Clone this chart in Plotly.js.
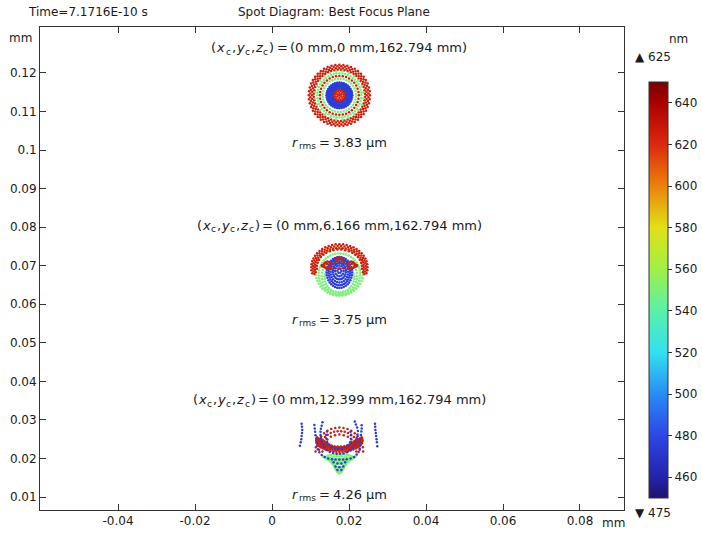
<!DOCTYPE html>
<html>
<head>
<meta charset="utf-8">
<script src="https://cdn.plot.ly/plotly-3.0.1.min.js"></script>
<style>html,body{margin:0;padding:0;background:#fff}#chart{width:702px;height:541px}</style>
</head>
<body>
<div id="chart"></div>
<script>
// ---------------- DATA ----------------
const WAVELENGTHS = [475, 550, 625];              // nm : blue, green, red rays
const SPOT_CX = [0.0175, 0.0175, 0.0175];         // mm, spot centres
const SPOT_CY = [0.1142, 0.0694, 0.0235];         // mm
const SPOT_YC = ['0 mm', '6.166 mm', '12.399 mm'];
const SPOT_ZC = ['162.794 mm', '162.794 mm', '162.794 mm'];
const RRMS = ['3.83', '3.75', '4.26'];            // µm
const X_TICKS = [-0.04, -0.02, 0, 0.02, 0.04, 0.06, 0.08];
const X_TICKTEXT = ['-0.04', '-0.02', '0', '0.02', '0.04', '0.06', '0.08'];
const Y_TICKS = [0.01, 0.02, 0.03, 0.04, 0.05, 0.06, 0.07, 0.08, 0.09, 0.1, 0.11, 0.12];
const Y_TICKTEXT = ['0.01', '0.02', '0.03', '0.04', '0.05', '0.06', '0.07', '0.08', '0.09', '0.1', '0.11', '0.12'];
const CB_TICKS = [460, 480, 500, 520, 540, 560, 580, 600, 620, 640];
const WL_MIN = 475, WL_MAX = 625;

// ray-fan angle sets (deg)
const A48 = [0,7.5,15,22.5,30,37.5,45,52.5,60,67.5,75,82.5,90,97.5,105,112.5,120,127.5,135,142.5,150,157.5,165,172.5,180,187.5,195,202.5,210,217.5,225,232.5,240,247.5,255,262.5,270,277.5,285,292.5,300,307.5,315,322.5,330,337.5,345,352.5];
const A36 = [0,10,20,30,40,50,60,70,80,90,100,110,120,130,140,150,160,170,180,190,200,210,220,230,240,250,260,270,280,290,300,310,320,330,340,350];
const A24 = [0,15,30,45,60,75,90,105,120,135,150,165,180,195,210,225,240,255,270,285,300,315,330,345];
const A12 = [0,30,60,90,120,150,180,210,240,270,300,330];
const A6  = [0,60,120,180,240,300];
const A1  = [0];

// spot rings, offsets in µm from spot centre: [dx, dy, rx, ry, angleSet, phase, fromDeg, toDeg]
const S1_GREEN = [
  [0,0,6.3,6.3,24,7.5,0,360],[0,0,5.7,5.7,48,0,0,360],[0,0,4.35,4.35,36,5,0,360]
];
const S1_BLUE = [
  [0,0,3.35,3.35,36,0,0,360],[0,0,3.0,3.0,36,5,0,360],[0,0,2.65,2.65,36,0,0,360],
  [0,0,2.3,2.3,24,7.5,0,360],[0,0,1.95,1.95,24,0,0,360]
];
const S1_RED = [
  [0,0,7.95,7.95,48,0,0,360],[0,0,7.55,7.55,48,3.75,0,360],[0,0,7.1,7.1,48,0,0,360],
  [0,0,6.65,6.65,48,3.75,0,360],[0,0,5.05,5.05,36,0,0,360],
  [0,0,1.6,1.6,24,0,0,360],[0,0,1.15,1.15,12,15,0,360],[0,0,0.6,0.6,6,30,0,360],[0,0,0,0,1,0,0,360]
];
const S2_GREEN = [
  [0,-1.0,6.2,6.2,48,0,0,360],[0,-1.6,5.4,5.4,48,3.75,0,360],
  [0,-2.1,4.6,4.6,36,0,0,360],[0,-2.5,3.8,3.8,36,5,0,360]
];
const S2_BLUE = [
  [0,-1.15,3.3,4.0,36,0,0,360],[0,-1.05,2.8,3.4,36,5,0,360],[0,-0.95,2.3,2.8,24,0,0,360],
  [0,-0.85,1.7,2.1,24,7.5,0,360],[0,-0.75,1.1,1.4,12,0,0,360],[0,-0.7,0.5,0.6,6,0,0,360]
];
const S2_RED = [
  [0,0.2,7.3,6.0,48,0,-20,200],[0,0.2,6.85,5.5,48,3.75,-20,200],
  [0,0.2,6.35,5.0,48,0,-15,195],[0,0.2,5.85,4.6,36,5,-10,190],
  [-3.1,0.8,0.9,0.9,12,0,0,360],[3.1,0.8,0.9,0.9,12,0,0,360],
  [0,0.6,4.6,0.7,24,0,0,360],[0,2.0,0.8,0.8,12,0,0,180]
];
const S3_GREEN = [
  [0,-2.9,4.2,0.9,36,0,180,360],[0,-3.3,3.5,0.9,36,5,0,360],[0,-3.9,2.6,1.0,24,0,0,360],
  [0,-4.7,1.8,1.1,24,7.5,0,360],[0,-5.6,1.3,1.1,12,0,0,360],[0,-6.4,0.8,0.8,12,15,0,360],
  [0,-7.0,0.35,0.4,6,0,0,360]
];
const S3_RED = [
  [0,-1.7,6.2,6.2,36,0,0,180],[0,-1.7,5.3,5.3,36,5,0,180],[0,-1.7,4.4,4.4,24,0,0,180],
  [0,1.2,6.0,3.0,48,0,165,375],[0,1.2,5.5,2.6,48,3.75,165,375],[0,1.2,5.0,2.25,48,0,170,370],
  [0,1.1,4.5,1.9,36,5,170,370],[0,1.0,3.9,1.6,36,0,175,365],[0,0.9,3.3,1.3,24,7.5,180,360]
];
// blue spot-3 rays, explicit points [dx, dy] in µm
const S3_BLUE_PTS = [
  [-9.8,5.5],[-9.7,4.7],[-9.65,3.9],[-9.7,3.1],[-9.8,2.3],[-9.9,1.5],[-10.05,0.7],[-10.25,-0.2],
  [9.25,5.5],[9.3,4.7],[9.35,3.9],[9.45,3.1],[9.55,2.3],[9.65,1.5],[9.75,0.7],[9.85,-0.3],
  [-6.5,5.2],[-6.4,4.3],[-6.3,3.4],[-6.2,2.5],[-6.0,1.6],[-5.9,0.7],[-5.8,-0.2],[-5.6,-1.1],[-5.2,-1.9],
  [-4.6,-2.6],[-3.8,-3.1],[-2.9,-3.5],[-1.9,-3.7],[-1.0,-3.8],[0,-3.8],[1.0,-3.8],[1.9,-3.7],[2.9,-3.5],
  [3.8,-3.1],[4.5,-2.5],[5.0,-1.8],[5.3,-1.0],[5.4,-0.1],[5.4,0.8],[5.5,1.7],[5.6,2.6],[5.7,3.5],[5.8,4.3],[5.8,5.1],
  [-4.4,5.9],[-4.6,5.0],[-4.8,4.2],[-4.9,3.4],[-4.9,2.6],[-4.8,1.8],[-4.6,1.0],[-4.3,0.2],[-3.9,-0.6],
  [-3.3,-1.3],[-2.5,-1.8],[-1.6,-2.1],[-0.7,-2.3],[0.2,-2.3],[1.1,-2.2],[2.0,-1.9],[2.8,-1.4],[3.5,-0.8],
  [4.0,0],[4.3,0.9],[4.5,1.8],[4.7,2.7],[4.8,3.6],[4.6,4.5],[4.3,5.3],[4.0,6.1],
  [-3.2,3.5],[-3.4,2.6],[-3.4,1.7],[-3.2,0.8],[-2.7,0],[-2.0,-0.6],[-1.1,-0.9],[-0.2,-1.0],[0.7,-0.9],
  [1.6,-0.6],[2.3,-0.1],[2.8,0.7],[3.0,1.6],[3.0,2.5],[2.9,3.4],
  [-1.5,-4.5],[-0.5,-4.8],[0.5,-4.8],[1.5,-4.5],[-1.0,-5.6],[0,-5.8],[1.0,-5.6],[-0.5,-6.5],[0.5,-6.5]
];

// ---------------- BUILD ----------------
const ANGLE_SETS = {48:A48, 36:A36, 24:A24, 12:A12, 6:A6, 1:A1};
function ringsToPts(rings) {
  const pts = [];
  rings.forEach(([dx,dy,rx,ry,set,phase,a0,a1]) => {
    ANGLE_SETS[set].forEach(a => {
      const t = (a + phase) % 360;
      const inRange = [t - 360, t, t + 360].some(v => v >= a0 && v <= a1);
      if (!inRange) return;
      const rad = t * Math.PI / 180;
      pts.push([dx + rx * Math.cos(rad), dy + ry * Math.sin(rad)]);
    });
  });
  return pts;
}
function trace(spot, pts, wl) {
  return {
    type: 'scatter', mode: 'markers', hoverinfo: 'skip', showlegend: false,
    x: pts.map(p => SPOT_CX[spot] + p[0] / 1000),
    y: pts.map(p => SPOT_CY[spot] + p[1] / 1000),
    marker: {size: 2.5, color: pts.map(() => wl), coloraxis: 'coloraxis', line: {width: 0}}
  };
}
const [WB, WG, WR] = WAVELENGTHS;
const data = [
  trace(0, ringsToPts(S1_RED), WR), trace(0, ringsToPts(S1_GREEN), WG), trace(0, ringsToPts(S1_BLUE), WB),
  trace(1, ringsToPts(S2_GREEN), WG), trace(1, ringsToPts(S2_BLUE), WB), trace(1, ringsToPts(S2_RED), WR),
  trace(2, ringsToPts(S3_GREEN), WG), trace(2, ringsToPts(S3_RED), WR), trace(2, S3_BLUE_PTS, WB)
];

const FAMILY = 'DejaVu Sans';
const FONT = 'DejaVu Sans, Verdana, sans-serif';
const TXT = '#1a1a1a';
const L = 40, T = 27, W = 584, H = 483;
const px = x => (x - L) / W, py = y => (T + H - y) / H;
const XR = [-0.06026, 0.09143];
const dataToPx = x => L + (x - XR[0]) / (XR[1] - XR[0]) * W;

const annotations = [
  {text: 'Time=7.1716E-10 s', x: px(26), y: py(12), xanchor: 'left'},
  {text: 'Spot Diagram: Best Focus Plane', x: px(334), y: py(12)},
  {text: 'mm', x: px(20), y: py(38)},
  {text: 'mm', x: px(613), y: py(523)},
  {text: 'nm', x: px(678), y: py(39)},
  {text: '▲ ' + WL_MAX, x: px(653), y: py(57)},
  {text: '▼ ' + WL_MIN, x: px(653), y: py(513)}
].map(a => Object.assign({xref: 'paper', yref: 'paper', showarrow: false, xanchor: 'center', yanchor: 'middle',
  font: {family: FONT, size: 12, color: TXT}}, a));

// rich labels laid out as separate text pieces (italic symbol + lowered subscript)
const ctx = document.createElement('canvas').getContext('2d');
function measure(s, size, italic) { ctx.font = (italic ? 'italic ' : '') + size + 'px "' + FAMILY + '"'; return ctx.measureText(s).width; }
const GAP_AFTER = {i: 1.5, s: 1.0, n: 0, g: 0};
function richLabel(segs, cxPx, cyPx) {
  // segs: [text, kind] kind: 'n' normal, 'i' italic, 's' subscript, 'g' narrow gap
  const parts = segs.map(([s, k]) => {
    const size = k === 's' ? 9 : 13;
    return {s, k, size, w: (k === 'g' ? 2.6 : measure(s, size, k === 'i')) + GAP_AFTER[k]};
  });
  const total = parts.reduce((a, p) => a + p.w, 0);
  let x = cxPx - total / 2;
  parts.forEach(p => {
    if (p.k !== 'g') {
      annotations.push({xref: 'paper', yref: 'paper', x: px(x), y: py(cyPx + (p.k === 's' ? 3.5 : 0)),
        xanchor: 'left', yanchor: 'middle', showarrow: false, borderpad: 0, borderwidth: 0,
        text: p.s, font: {family: FONT, size: p.size, color: TXT, style: p.k === 'i' ? 'italic' : 'normal'}});
    }
    x += p.w;
  });
}
const LABEL_YPX = [48, 225, 400];
const RRMS_YPX = [142, 319, 494];
for (let i = 0; i < 3; i++) {
  const cx = dataToPx(SPOT_CX[i]);
  richLabel([['(', 'n'], ['x', 'i'], ['c', 's'], [',', 'n'], ['y', 'i'], ['c', 's'], [',', 'n'], ['z', 'i'], ['c', 's'],
    [')', 'n'], ['', 'g'], ['=', 'n'], ['', 'g'], ['(0 mm,' + SPOT_YC[i] + ',' + SPOT_ZC[i] + ')', 'n']], cx, LABEL_YPX[i]);
  richLabel([['r', 'i'], ['rms', 's'], ['', 'g'], ['=', 'n'], ['', 'g'], [RRMS[i] + ' µm', 'n']], cx, RRMS_YPX[i]);
}

const axisCommon = {
  ticks: 'inside', ticklen: 6, tickwidth: 1, tickcolor: '#333', showline: true, linecolor: '#333', linewidth: 1,
  mirror: 'ticks', showgrid: false, zeroline: false, tickfont: {family: FONT, size: 12, color: TXT}
};
const layout = {
  width: 702, height: 541, margin: {l: L, r: 702 - L - W, t: T, b: 541 - T - H, autoexpand: false},
  paper_bgcolor: '#fff', plot_bgcolor: '#fff', showlegend: false,
  xaxis: Object.assign({range: XR, tickvals: X_TICKS, ticktext: X_TICKTEXT}, axisCommon),
  yaxis: Object.assign({range: [0.00663, 0.13193], tickvals: Y_TICKS, ticktext: Y_TICKTEXT}, axisCommon),
  coloraxis: {
    cmin: 450, cmax: 650,
    colorscale: [
      [0, 'rgb(30,20,110)'], [0.05, 'rgb(35,35,170)'], [0.15, 'rgb(45,70,230)'], [0.25, 'rgb(40,140,245)'],
      [0.35, 'rgb(50,225,240)'], [0.45, 'rgb(90,240,170)'], [0.55, 'rgb(160,240,70)'], [0.65, 'rgb(225,225,20)'],
      [0.75, 'rgb(235,130,10)'], [0.85, 'rgb(220,40,15)'], [0.95, 'rgb(170,0,0)'], [1, 'rgb(120,0,0)']
    ],
    colorbar: {
      thickness: 19, thicknessmode: 'pixels', len: 416, lenmode: 'pixels',
      x: px(649), xanchor: 'left', xpad: 0, y: py(290), yanchor: 'middle', ypad: 0,
      outlinewidth: 1, outlinecolor: '#333', tickvals: CB_TICKS, ticks: 'outside', ticklen: 4, tickcolor: '#333',
      tickfont: {family: FONT, size: 12, color: TXT}
    }
  },
  annotations: annotations
};
Plotly.newPlot('chart', data, layout, {staticPlot: true, displayModeBar: false});
</script>
</body>
</html>
